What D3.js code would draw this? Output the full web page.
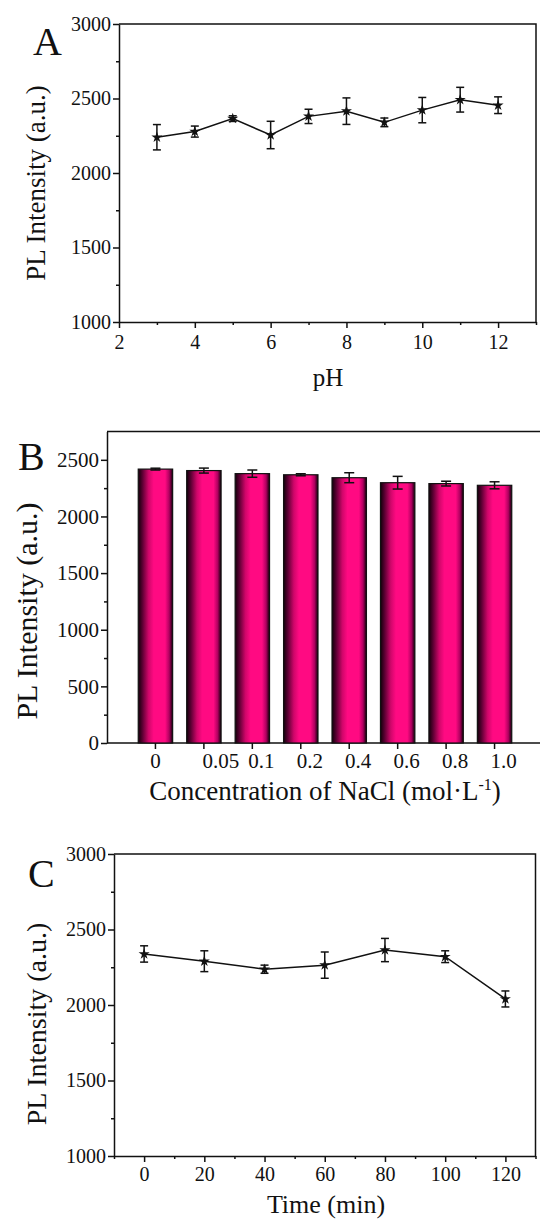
<!DOCTYPE html>
<html>
<head>
<meta charset="utf-8">
<script src="https://cdn.jsdelivr.net/npm/d3@7/dist/d3.min.js"></script>
<style>
  body { margin: 0; background: #fff; }
  text { font-family: "Liberation Serif", "Times New Roman", serif; fill: #111; }
  .axis path, .axis line { stroke: #111; stroke-width: 1.5; }
</style>
</head>
<body>
<svg id="fig" width="540" height="1220"></svg>
<script>
// panel A: pH
var phValues = [3, 4, 5, 6, 7, 8, 9, 10, 11, 12];
var phIntensity = [2240, 2278, 2365, 2255, 2380, 2415, 2340, 2422, 2492, 2455];
var phError = [85, 37, 19, 92, 48, 89, 29, 85, 83, 56];
var phTicks = [2, 4, 6, 8, 10, 12];

// panel B: NaCl
var naclLabels = ["0", "0.05", "0.1", "0.2", "0.4", "0.6", "0.8", "1.0"];
var naclIntensity = [2418, 2405, 2378, 2368, 2342, 2298, 2290, 2275];
var naclError = [8, 22, 32, 9, 44, 56, 21, 31];
var naclTicksY = [0, 500, 1000, 1500, 2000, 2500];

// panel C: time
var timeValues = [0, 20, 40, 60, 80, 100, 120];
var timeIntensity = [2338, 2290, 2237, 2264, 2364, 2320, 2040];
var timeError = [54, 69, 27, 87, 77, 39, 53];

var intensityTicks = [1000, 1500, 2000, 2500, 3000];

var svg = d3.select("#fig");
var fmt = d3.format("d");

function styleAxis(g, fontSize) {
  g.attr("class", "axis").attr("font-family", null);
  g.selectAll("text").style("font-size", fontSize + "px").attr("fill", "#111");
}

function linePanel(o) {
  var x = d3.scaleLinear().domain(o.xDomain).range(o.xRange);
  var y = d3.scaleLinear().domain([1000, 3000]).range(o.yRange);
  var g = svg.append("g");

  // frame (top + right)
  g.append("path")
    .attr("d", "M" + x.range()[0] + "," + y(3000) + "H" + x.range()[1] + "V" + y(1000))
    .attr("fill", "none").attr("stroke", "#111").attr("stroke-width", 1.5);

  // minor ticks
  g.append("g").attr("transform", "translate(0," + y(1000) + ")")
    .call(d3.axisBottom(x).tickValues(o.minorX).tickSize(3).tickFormat(""))
    .call(function (s) { styleAxis(s, 10); s.select(".domain").remove(); });
  g.append("g").attr("transform", "translate(" + x.range()[0] + ",0)")
    .call(d3.axisLeft(y).tickValues([1250, 1750, 2250, 2750]).tickSize(3).tickFormat(""))
    .call(function (s) { styleAxis(s, 10); s.select(".domain").remove(); });

  g.append("g").attr("transform", "translate(0," + y(1000) + ")")
    .call(d3.axisBottom(x).tickValues(o.ticksX).tickFormat(fmt).tickSize(6).tickSizeOuter(0).tickPadding(o.xPad))
    .call(function (s) { styleAxis(s, o.tickFont); });
  g.append("g").attr("transform", "translate(" + x.range()[0] + ",0)")
    .call(d3.axisLeft(y).tickValues(intensityTicks).tickFormat(fmt).tickSize(6).tickSizeOuter(0).tickPadding(2))
    .call(function (s) { styleAxis(s, o.tickFont); });

  var pts = o.xs.map(function (d, i) { return { x: d, v: o.vals[i], e: o.errs[i] }; });

  g.append("path").datum(pts)
    .attr("fill", "none").attr("stroke", "#111").attr("stroke-width", 1.5)
    .attr("d", d3.line().x(function (d) { return x(d.x); }).y(function (d) { return y(d.v); }));

  var eb = g.selectAll(".err").data(pts).enter().append("g")
    .attr("stroke", "#111").attr("stroke-width", 1.5);
  eb.append("line")
    .attr("x1", function (d) { return x(d.x); }).attr("x2", function (d) { return x(d.x); })
    .attr("y1", function (d) { return y(d.v - d.e); }).attr("y2", function (d) { return y(d.v + d.e); });
  [-1, 1].forEach(function (s) {
    eb.append("line")
      .attr("x1", function (d) { return x(d.x) - 4; }).attr("x2", function (d) { return x(d.x) + 4; })
      .attr("y1", function (d) { return y(d.v + s * d.e); }).attr("y2", function (d) { return y(d.v + s * d.e); });
  });

  g.selectAll(".star").data(pts).enter().append("path")
    .attr("transform", function (d) { return "translate(" + x(d.x) + "," + y(d.v) + ")"; })
    .attr("d", d3.symbol().type(d3.symbolStar).size(38))
    .attr("fill", "#111");

  g.append("text").attr("x", o.letter[0]).attr("y", o.letter[1])
    .style("font-size", "40px").text(o.letterText);
  g.append("text")
    .attr("transform", "translate(" + o.yLab[0] + "," + o.yLab[1] + ") rotate(-90)")
    .attr("text-anchor", "middle").attr("dy", "0.35em")
    .style("font-size", o.yLabFont + "px").text("PL Intensity (a.u.)");
  g.append("text").attr("x", o.xLab[0]).attr("y", o.xLab[1])
    .attr("text-anchor", "middle").style("font-size", o.xLabFont + "px").text(o.xTitle);
}

linePanel({
  xDomain: [2, 13], xRange: [119, 536], yRange: [322, 24],
  ticksX: phTicks, minorX: [3, 5, 7, 9, 11, 13], xPad: 7, tickFont: 20,
  xs: phValues, vals: phIntensity, errs: phError,
  letter: [33, 55], letterText: "A",
  yLab: [36, 183], yLabFont: 27,
  xLab: [328, 386], xLabFont: 25, xTitle: "pH"
});

linePanel({
  xDomain: [-10, 130], xRange: [114, 535.5], yRange: [1156, 854],
  ticksX: timeValues, minorX: [-10, 10, 30, 50, 70, 90, 110, 130], xPad: 5, tickFont: 20,
  xs: timeValues, vals: timeIntensity, errs: timeError,
  letter: [28, 887], letterText: "C",
  yLab: [36, 1024], yLabFont: 28,
  xLab: [326, 1213], xLabFont: 26, xTitle: "Time (min)"
});

// panel B: bar chart
(function () {
  var x = d3.scaleBand().domain(naclLabels).range([107, 543]).paddingInner(0.29).paddingOuter(0.645);
  var y = d3.scaleLinear().domain([0, 2750]).range([743, 431.5]);
  var g = svg.append("g");

  var grad = svg.append("defs").append("linearGradient").attr("id", "barGrad")
    .attr("x1", "0").attr("x2", "1").attr("y1", "0").attr("y2", "0");
  [[0, "#12000a"], [0.12, "#5a0032"], [0.3, "#d0066a"], [0.45, "#ff0a82"],
   [0.78, "#ff0a82"], [0.9, "#b00060"], [1, "#12000a"]].forEach(function (s) {
    grad.append("stop").attr("offset", s[0]).attr("stop-color", s[1]);
  });

  g.append("line").attr("x1", 107).attr("x2", 540).attr("y1", y(2750)).attr("y2", y(2750))
    .attr("stroke", "#111").attr("stroke-width", 1.5);

  g.append("g").attr("transform", "translate(107,0)")
    .call(d3.axisLeft(y).tickValues([250, 750, 1250, 1750, 2250]).tickSize(3).tickFormat(""))
    .call(function (s) { styleAxis(s, 10); s.select(".domain").remove(); });
  g.append("g").attr("transform", "translate(107,0)")
    .call(d3.axisLeft(y).tickValues(naclTicksY).tickFormat(fmt).tickSize(6).tickSizeOuter(0).tickPadding(2))
    .call(function (s) { styleAxis(s, 21); });

  var xa = g.append("g").attr("transform", "translate(0," + y(0) + ")")
    .call(d3.axisBottom(x).tickSize(6).tickSizeOuter(0).tickPadding(4))
    .call(function (s) { styleAxis(s, 21); });
  xa.select(".domain").attr("d", "M107,0H540");
  xa.selectAll(".tick text").attr("dx", function (d) {
    return d === "0" ? 0 : (d === "0.05" ? 17 : 9);
  });

  var bars = naclLabels.map(function (d, i) { return { k: d, v: naclIntensity[i], e: naclError[i] }; });

  g.selectAll(".bar").data(bars).enter().append("rect")
    .attr("x", function (d) { return x(d.k); })
    .attr("width", x.bandwidth())
    .attr("y", function (d) { return y(d.v); })
    .attr("height", function (d) { return y(0) - y(d.v); })
    .attr("fill", "url(#barGrad)").attr("stroke", "#111").attr("stroke-width", 1.2);

  var eb = g.selectAll(".err").data(bars).enter().append("g")
    .attr("stroke", "#111").attr("stroke-width", 1.5);
  var cx = function (d) { return x(d.k) + x.bandwidth() / 2; };
  eb.append("line").attr("x1", cx).attr("x2", cx)
    .attr("y1", function (d) { return y(d.v - d.e); }).attr("y2", function (d) { return y(d.v + d.e); });
  [-1, 1].forEach(function (s) {
    eb.append("line")
      .attr("x1", function (d) { return cx(d) - 5; }).attr("x2", function (d) { return cx(d) + 5; })
      .attr("y1", function (d) { return y(d.v + s * d.e); }).attr("y2", function (d) { return y(d.v + s * d.e); });
  });

  g.append("text").attr("x", 18).attr("y", 470).style("font-size", "40px").text("B");
  g.append("text")
    .attr("transform", "translate(26,611) rotate(-90)")
    .attr("text-anchor", "middle").attr("dy", "0.35em")
    .style("font-size", "30px").text("PL Intensity (a.u.)");
  var t = g.append("text").attr("x", 325).attr("y", 800)
    .attr("text-anchor", "middle").style("font-size", "27px");
  t.append("tspan").text("Concentration of NaCl (mol\u00B7L");
  t.append("tspan").attr("dy", "-10").style("font-size", "16px").text("-1");
  t.append("tspan").attr("dy", "10").text(")");
})();
</script>
</body>
</html>
